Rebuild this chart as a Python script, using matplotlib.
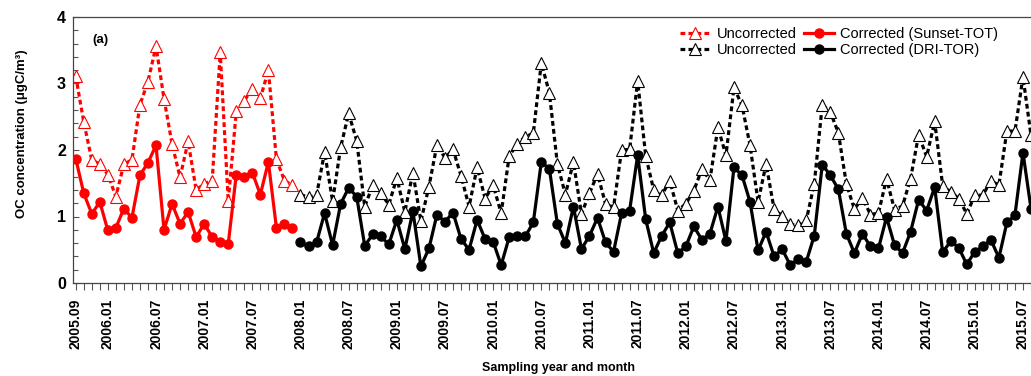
import numpy as np
import pandas as pd
import matplotlib
matplotlib.use("Agg")
import matplotlib.pyplot as plt
from matplotlib.ticker import MultipleLocator, FixedLocator

plt.rcParams['font.family'] = ['Liberation Sans', 'DejaVu Sans']

# monthly samples, 2005.09 - 2015.08
months = [p.strftime('%Y.%m') for p in pd.period_range('2005-09', '2015-08', freq='M')]

# Sunset-TOT period (2005.09 - 2007.12)
sunset_uncorr = [3.11, 2.42, 1.85, 1.79, 1.63, 1.30, 1.79, 1.85, 2.68, 3.03,
                 3.56, 2.77, 2.09, 1.59, 2.13, 1.40, 1.49, 1.54, 3.47, 1.23,
                 2.58, 2.74, 2.92, 2.78, 3.20, 1.86, 1.54, 1.47]
sunset_corr = [1.87, 1.35, 1.04, 1.22, 0.79, 0.83, 1.12, 0.98, 1.62, 1.81,
               2.07, 0.80, 1.19, 0.89, 1.07, 0.69, 0.89, 0.69, 0.62, 0.59,
               1.63, 1.60, 1.66, 1.33, 1.82, 0.83, 0.88, 0.82]

# DRI-TOR period (2008.01 - 2015.08)
dri_uncorr = [1.33, 1.29, 1.32, 1.97, 1.23, 2.04, 2.55, 2.14, 1.15, 1.47,
              1.35, 1.18, 1.58, 1.07, 1.66, 0.93, 1.45, 2.08, 1.88, 2.01,
              1.61, 1.15, 1.74, 1.27, 1.47, 1.05, 1.91, 2.09, 2.20, 2.25,
              3.31, 2.86, 1.79, 1.33, 1.82, 1.04, 1.35, 1.64, 1.19, 1.14,
              2.00, 2.01, 3.04, 1.91, 1.40, 1.32, 1.54, 1.09, 1.19, 1.39,
              1.71, 1.55, 2.34, 1.92, 2.94, 2.67, 2.07, 1.22, 1.79, 1.11,
              1.01, 0.88, 0.87, 0.94, 1.49, 2.68, 2.57, 2.26, 1.49, 1.11,
              1.28, 1.03, 1.05, 1.57, 1.10, 1.16, 1.57, 2.23, 1.90, 2.43,
              1.46, 1.37, 1.27, 1.04, 1.32, 1.32, 1.54, 1.47, 2.29, 2.28,
              3.10, 2.22]
dri_corr = [0.61, 0.55, 0.61, 1.05, 0.57, 1.19, 1.43, 1.30, 0.56, 0.73,
            0.70, 0.58, 0.95, 0.51, 1.08, 0.25, 0.52, 1.03, 0.92, 1.06,
            0.66, 0.50, 0.95, 0.66, 0.62, 0.27, 0.69, 0.70, 0.70, 0.91,
            1.82, 1.72, 0.89, 0.60, 1.15, 0.51, 0.71, 0.98, 0.61, 0.47,
            1.05, 1.09, 1.92, 0.96, 0.45, 0.71, 0.91, 0.45, 0.55, 0.85,
            0.65, 0.74, 1.15, 0.63, 1.74, 1.62, 1.22, 0.49, 0.77, 0.40,
            0.51, 0.27, 0.36, 0.32, 0.71, 1.78, 1.62, 1.41, 0.74, 0.45,
            0.74, 0.55, 0.52, 0.99, 0.57, 0.45, 0.77, 1.25, 1.09, 1.44,
            0.46, 0.63, 0.53, 0.28, 0.47, 0.55, 0.65, 0.38, 0.91, 1.02,
            1.96, 1.12]

tick_labels = ['2005.09'] + [m for m in months if m[-2:] in ('01', '07')]

x_all = np.arange(len(months))
x_red = x_all[:len(sunset_corr)]
x_blk = x_all[len(sunset_corr):]

fig = plt.figure(figsize=(10.31, 3.76), dpi=100)
ax = fig.add_axes([73 / 1031, 1 - 283 / 376, 1 - 73 / 1031, (283 - 17) / 376])

dash = (0, (1.5, 1.0))
lw = 2.3
ax.plot(x_red, sunset_uncorr, color='red', lw=lw, ls=dash, marker='^', ms=8.5,
        mfc='white', mec='red', mew=0.8, label='Uncorrected', zorder=2)
ax.plot(x_blk, dri_uncorr, color='black', lw=lw, ls=dash, marker='^', ms=8.5,
        mfc='white', mec='black', mew=0.8, label='Uncorrected', zorder=2)
ax.plot(x_red, sunset_corr, color='red', lw=lw, marker='o', ms=6.5,
        label='Corrected (Sunset-TOT)', zorder=3)
ax.plot(x_blk, dri_corr, color='black', lw=lw, marker='o', ms=6.5,
        label='Corrected (DRI-TOR)', zorder=3)

ax.set_xlim(-0.34, len(months) - 1)
ax.set_ylim(0, 4)

ax.yaxis.set_major_locator(MultipleLocator(1))
ax.yaxis.set_minor_locator(MultipleLocator(0.2))
ax.tick_params(axis='y', which='both', direction='in', length=4, width=0.8,
               color='#555555', labelsize=11.5, pad=5)
ax.tick_params(axis='y', which='minor', length=3.5)

ax.xaxis.set_major_locator(FixedLocator([months.index(t) for t in tick_labels]))
ax.set_xticklabels(tick_labels, rotation=90)
ax.xaxis.set_minor_locator(FixedLocator(x_all))
ax.tick_params(axis='x', which='both', direction='out', length=5, width=0.8,
               color='#555555', labelsize=10, pad=6)

for lab in ax.get_xticklabels() + ax.get_yticklabels():
    lab.set_fontweight('bold')

for s in ['left', 'top', 'bottom']:
    ax.spines[s].set_color('#444444')
    ax.spines[s].set_linewidth(0.9)
ax.spines['right'].set_visible(False)

ax.text(92 / 1031, 1 - 40 / 376, '(a)', transform=fig.transFigure,
        fontsize=9.5, fontweight='bold', va='center', ha='left')

fig.text(22 / 1031, 1 - 134 / 376, 'OC concentration (μgC/m³)', rotation=90,
         fontsize=9.5, fontweight='bold', ha='center', va='center')
fig.text(559 / 1031, 1 - 368 / 376, 'Sampling year and month',
         fontsize=9, fontweight='bold', ha='center', va='center')

ax.legend(ncol=2, frameon=False, loc='upper left',
          bbox_to_anchor=(680 / 1031, 1 - 27 / 376), bbox_transform=fig.transFigure,
          borderpad=0, fontsize=10.5, handlelength=2.1, handletextpad=0.4,
          columnspacing=0.5, labelspacing=0.15, borderaxespad=0)

fig.savefig('out.png', dpi=100)
